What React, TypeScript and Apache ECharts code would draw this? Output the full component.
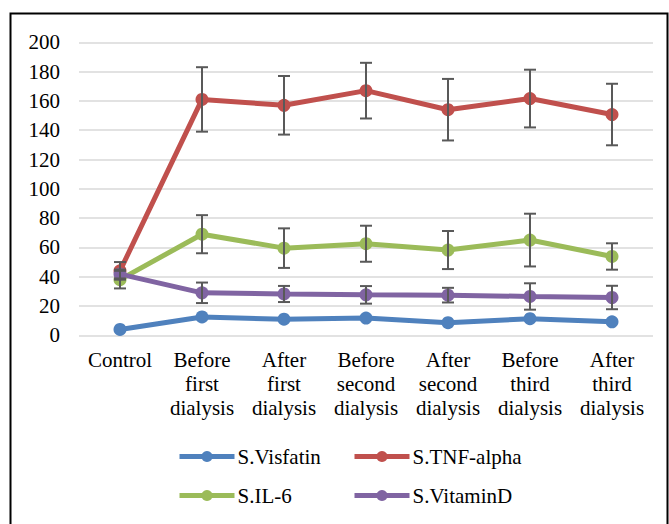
import React, { useEffect, useRef } from "react";
import * as echarts from "echarts";

const categories = [
  "Control",
  "Before\nfirst\ndialysis",
  "After\nfirst\ndialysis",
  "Before\nsecond\ndialysis",
  "After\nsecond\ndialysis",
  "Before\nthird\ndialysis",
  "After\nthird\ndialysis",
];

const seriesNames = ["S.Visfatin", "S.TNF-alpha", "S.IL-6", "S.VitaminD"];
const seriesColors = ["#4F81BD", "#C0504D", "#9BBB59", "#8064A2"];

const visfatin = [4, 12.5, 11, 11.8, 8.6, 11.3, 9.2];
const tnfAlpha = [44, 161, 157, 167, 154, 161.6, 150.7];
const il6 = [38, 69, 59.5, 62.5, 58.2, 65, 53.8];
const vitaminD = [41.8, 29, 28.2, 27.6, 27.4, 26.5, 25.8];

const tnfErr = [6, 22, 20, 19, 21, 19.7, 21];
const il6Err = [6, 13, 13.5, 12.3, 13, 18, 9];
const vitaminDErr = [3, 7, 5.5, 6, 5, 9, 8];

const yTicks = { min: 0, max: 200, interval: 20 };

const FONT = "Liberation Serif";
const FS = 21;

function errData(values: number[], errs: number[]) {
  return values.map((v, i) => [i, v - errs[i], v + errs[i]]);
}

export default function App() {
  const ref = useRef<HTMLDivElement>(null);

  useEffect(() => {
    if (!ref.current) return;
    const chart = echarts.init(ref.current, null, { renderer: "svg" });

    const lineSeries = [visfatin, tnfAlpha, il6, vitaminD].map((d, i) => ({
      name: seriesNames[i],
      type: "line",
      data: d,
      symbol: "circle",
      symbolSize: 13,
      lineStyle: { width: 5, color: seriesColors[i] },
      itemStyle: { color: seriesColors[i] },
      z: 2,
    }));

    const errSeries = [
      errData(tnfAlpha, tnfErr),
      errData(il6, il6Err),
      errData(vitaminD, vitaminDErr),
    ].map((d) => ({
      type: "custom",
      data: d,
      encode: { x: 0, y: [1, 2] },
      z: 3,
      silent: true,
      renderItem: (params: any, api: any) => {
        const x = api.value(0);
        const lo = api.coord([x, api.value(1)]);
        const hi = api.coord([x, api.value(2)]);
        const hw = 6;
        const style = { stroke: "#595959", lineWidth: 2 };
        return {
          type: "group",
          children: [
            { type: "line", shape: { x1: lo[0], y1: lo[1], x2: hi[0], y2: hi[1] }, style },
            { type: "line", shape: { x1: lo[0] - hw, y1: lo[1], x2: lo[0] + hw, y2: lo[1] }, style },
            { type: "line", shape: { x1: hi[0] - hw, y1: hi[1], x2: hi[0] + hw, y2: hi[1] }, style },
          ],
        };
      },
    }));

    const legendPos = [
      { left: 177, top: 446 },
      { left: 352, top: 446 },
      { left: 177, top: 485 },
      { left: 352, top: 485 },
    ];

    const legends = seriesNames.map((n, i) => ({
      data: [n],
      left: legendPos[i].left,
      top: legendPos[i].top,
      itemWidth: 55,
      itemHeight: 14,
      itemGap: 0,
      padding: 0,
      selectedMode: false,
      lineStyle: { width: 5 },
      textStyle: { fontFamily: FONT, fontSize: FS, color: "#000", padding: [0, 0, 0, -2] },
    }));

    chart.setOption({
      animation: false,
      backgroundColor: "#fff",
      grid: { left: 79, right: 16, top: 42.3, bottom: 524 - 335.3, containLabel: false },
      legend: legends,
      xAxis: {
        type: "category",
        data: categories,
        boundaryGap: true,
        axisLine: { show: false },
        axisTick: { show: false },
        axisLabel: {
          interval: 0,
          margin: 13,
          fontFamily: FONT,
          fontSize: FS,
          lineHeight: 24,
          color: "#000",
          align: "center",
        },
      },
      yAxis: {
        type: "value",
        min: yTicks.min,
        max: yTicks.max,
        interval: yTicks.interval,
        axisLine: { show: false },
        axisTick: { show: false },
        axisLabel: { margin: 19, fontFamily: FONT, fontSize: FS, color: "#000" },
        splitLine: { lineStyle: { color: "#d9d9d9", width: 1.5 } },
      },
      graphic: [
        {
          type: "rect",
          shape: { x: 10.5, y: 13.5, width: 657, height: 600 },
          style: { fill: "none", stroke: "#000", lineWidth: 2 },
          silent: true,
          z: 100,
        },
      ],
      series: [...lineSeries, ...errSeries],
    });

    return () => chart.dispose();
  }, []);

  return (
    <div
      ref={ref}
      style={{ position: "absolute", left: 0, top: 0, width: 669, height: 524, background: "#fff" }}
    />
  );
}
